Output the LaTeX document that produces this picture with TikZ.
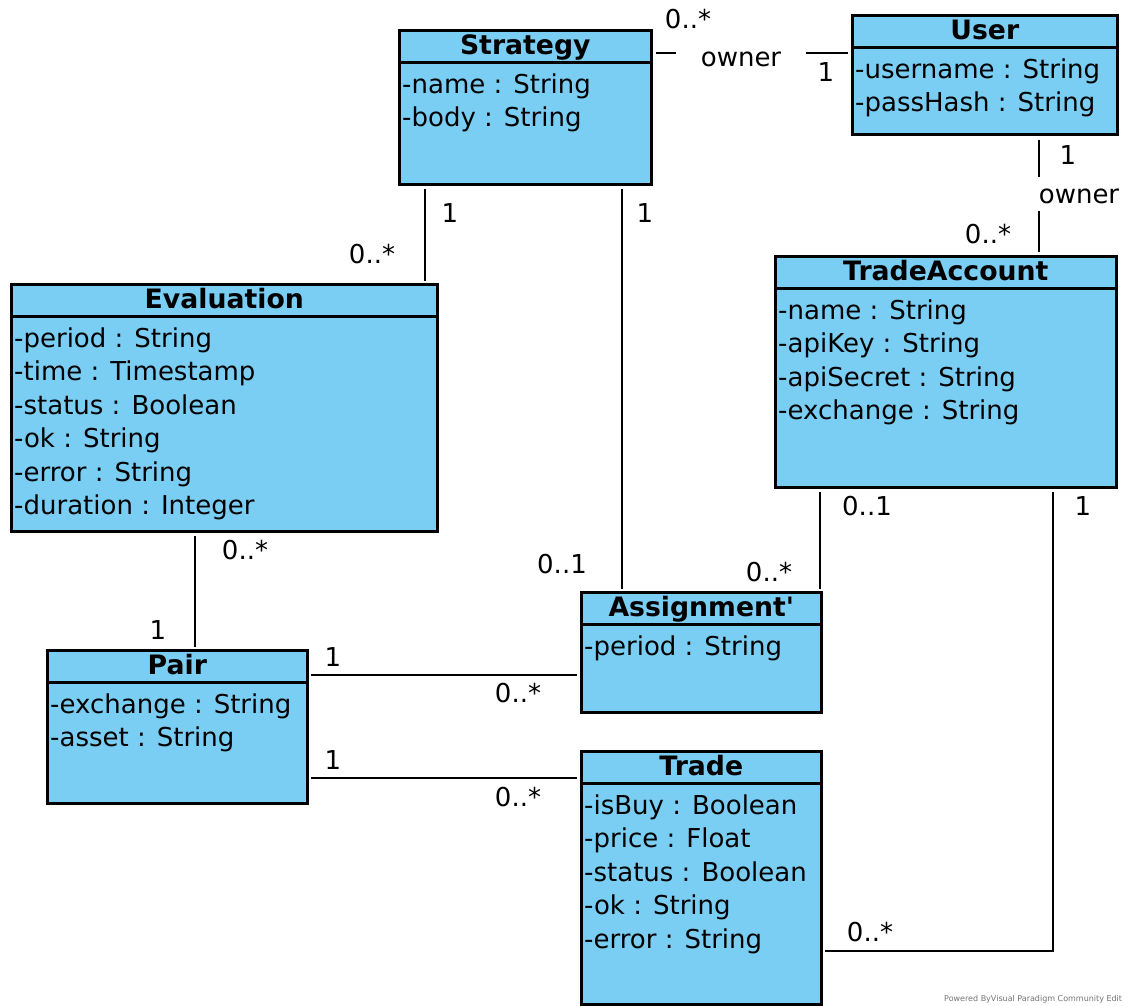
\documentclass[tikz,border=0pt]{standalone}
\usepackage{fontspec}
\setmainfont{DejaVu Sans}[Ligatures=TeXOff]
\definecolor{classfill}{HTML}{7ACEF4}
\newcommand\umlfont{\fontsize{26}{31}\selectfont}
\newcommand\umltitlefont{\fontsize{26.7}{31}\selectfont\bfseries}

\tikzset{
  classbox/.style={draw=black, line width=2.6pt, fill=classfill, anchor=north west, inner sep=0pt},
  classtitle/.style={font=\umltitlefont, anchor=base, inner sep=0pt},
  attr/.style={font=\umlfont, anchor=base west, inner sep=0pt},
  lbl/.style={font=\umlfont, inner sep=0pt},
  assoc/.style={line width=2.3pt},
}

% \umlclass{id}{x}{y}{width}{height}{title}{attributes}
\newcommand\umlclass[7]{%
  \node[classbox, minimum width=#4pt, minimum height=#5pt] (#1) at (#2,#3) {};
  \draw[line width=2.6pt] ([yshift=-33.5pt]#1.north west) -- ([yshift=-33.5pt]#1.north east);
  \node[classtitle] (#1-t) at ([yshift=-25.5pt]#1.north) {#6};
  \foreach \a [count=\i] in {#7} {%
    \node[attr] (#1-a\i) at ([xshift=4pt, yshift={-64pt-(\i-1)*33.5pt}]#1.north west) {\a};
  }%
}

\begin{document}
\begin{tikzpicture}[x=1pt, y=-1pt]
\useasboundingbox (0,0) rectangle (1128,1005);
\fill[white] (0,0) rectangle (1128,1005);

% classes
\umlclass{strategy}{398}{29}{252}{154}{Strategy}{-name : String,-body : String}
\umlclass{user}{851}{14}{265}{119}{User}{-username : String,-passHash : String}
\umlclass{tradeaccount}{774}{255}{341}{231}{TradeAccount}{-name : String,-apiKey : String,-apiSecret : String,-exchange : String}
\umlclass{evaluation}{10}{283}{426}{247}{Evaluation}{-period : String,-time : Timestamp,-status : Boolean,-ok : String,-error : String,-duration : Integer}
\umlclass{assignment}{580}{591}{240}{120}{Assignment'}{-period : String}
\umlclass{pair}{46}{649}{260}{153}{Pair}{-exchange : String,-asset : String}
\umlclass{trade}{580}{750}{240}{253}{Trade}{-isBuy : Boolean,-price : Float,-status : Boolean,-ok : String,-error : String}

% routing points of the associations
\coordinate (su-a) at (676,53);
\coordinate (su-b) at (806,53);
\coordinate (ut-a) at (1039,177);
\coordinate (ut-b) at (1039,211);
\coordinate (se) at (425,0);
\coordinate (sa) at (622,0);
\coordinate (ta) at (820,0);
\coordinate (tt) at (1053,951);
\coordinate (ep) at (195,0);
\coordinate (pa) at (0,675);
\coordinate (pt) at (0,778);

% Strategy -- User (owner)
\draw[assoc] ([xshift=3pt]strategy.east |- su-a) -- (su-a);
\draw[assoc] (su-b) -- ([xshift=-3pt]user.west |- su-b);
\node[lbl] (su-role) at (741,59) {owner};
\node[lbl] (su-m1) at (688,19) {0..*};
\node[lbl] (su-m2) at (826,72) {1};

% User -- TradeAccount (owner)
\draw[assoc] ([yshift=-4pt]user.south -| ut-a) -- (ut-a);
\draw[assoc] (ut-b) -- ([yshift=3pt]tradeaccount.north -| ut-b);
\node[lbl] (ut-m1) at (1068,155) {1};
\node[lbl] (ut-role) at (1079,196) {owner};
\node[lbl] (ut-m2) at (988,234) {0..*};

% Strategy -- Evaluation
\draw[assoc] ([yshift=-3pt]strategy.south -| se) -- ([yshift=2pt]evaluation.north -| se);
\node[lbl] (se-m1) at (450,213) {1};
\node[lbl] (se-m2) at (372,254) {0..*};

% Strategy -- Assignment'
\draw[assoc] ([yshift=-3pt]strategy.south -| sa) -- ([yshift=2pt]assignment.north -| sa);
\node[lbl] (sa-m1) at (645,213) {1};
\node[lbl] (sa-m2) at (562,564) {0..1};

% TradeAccount -- Assignment'
\draw[assoc] ([yshift=-3pt]tradeaccount.south -| ta) -- ([yshift=2pt]assignment.north -| ta);
\node[lbl] (ta-m1) at (867,506) {0..1};
\node[lbl] (ta-m2) at (769,572) {0..*};

% TradeAccount -- Trade
\draw[assoc] ([yshift=-3pt]tradeaccount.south -| tt) |- ([xshift=2pt]trade.east |- tt);
\node[lbl] (tt-m1) at (1083,506) {1};
\node[lbl] (tt-m2) at (870,932) {0..*};

% Evaluation -- Pair
\draw[assoc] ([yshift=-3pt]evaluation.south -| ep) -- ([yshift=2pt]pair.north -| ep);
\node[lbl] (ep-m1) at (245,550) {0..*};
\node[lbl] (ep-m2) at (158,630) {1};

% Pair -- Assignment'
\draw[assoc] ([xshift=2pt]pair.east |- pa) -- ([xshift=-3pt]assignment.west |- pa);
\node[lbl] (pa-m1) at (333,657) {1};
\node[lbl] (pa-m2) at (518,693) {0..*};

% Pair -- Trade
\draw[assoc] ([xshift=2pt]pair.east |- pt) -- ([xshift=-3pt]trade.west |- pt);
\node[lbl] (pt-m1) at (333,760) {1};
\node[lbl] (pt-m2) at (518,797) {0..*};

% footer
\node[font=\fontsize{8}{9}\selectfont, text=black!55, anchor=west, inner sep=0pt] (footer) at (944,999) {Powered ByVisual Paradigm Community Edit};
\end{tikzpicture}
\end{document}
